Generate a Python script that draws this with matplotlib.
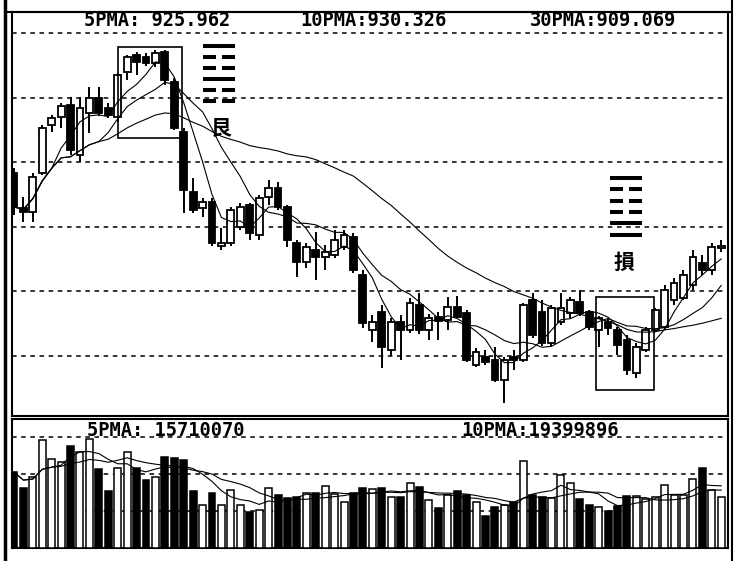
import matplotlib.pyplot as plt
from matplotlib.lines import Line2D
from matplotlib.patches import Rectangle
import numpy as np
import pandas as pd

plt.rcParams['font.family'] = ['Noto Sans CJK TC', 'Noto Sans CJK SC', 'Noto Sans CJK JP', 'DejaVu Sans']

# 日K线数据 (价格单位: 点, 成交量单位: 百万股)
open_ = [936.7, 925.9, 924.6, 936.7, 951.6, 954.1, 957.8, 942.3, 955.3, 960.0,
         956.9, 954.1, 968.0, 973.3, 972.7, 970.8, 974.2, 964.9, 949.4, 930.8,
         925.9, 927.7, 914.1, 915.0, 920.0, 926.8, 917.5, 929.3, 932.1, 926.2,
         915.0, 909.1, 912.9, 910.7, 911.3, 913.8, 916.9, 905.1, 888.1, 893.6,
         881.9, 890.6, 888.1, 895.8, 888.1, 892.1, 891.2, 895.2, 893.3, 877.2,
         879.7, 878.8, 872.6, 879.7, 878.8, 897.4, 893.6, 884.1, 890.6, 893.3,
         896.7, 893.6, 888.1, 890.6, 888.1, 885.0, 874.8, 881.9, 888.1, 889.0,
         897.4, 898.0, 902.0, 908.8, 906.7, 913.5]
high = [938.3, 929.3, 936.7, 951.6, 954.7, 958.4, 960.3, 960.3, 963.4, 963.4,
        958.4, 967.7, 973.3, 974.2, 973.9, 974.9, 974.9, 966.2, 950.7, 935.2,
        929.0, 929.0, 919.7, 926.2, 927.4, 927.4, 929.9, 934.6, 933.9, 926.8,
        916.0, 915.0, 918.4, 914.4, 919.1, 919.1, 918.1, 906.7, 892.7, 895.8,
        891.8, 892.7, 898.0, 899.5, 893.0, 893.6, 898.3, 898.6, 894.3, 882.5,
        881.9, 882.8, 879.7, 881.9, 896.4, 899.5, 897.4, 895.8, 899.5, 898.3,
        900.5, 894.3, 892.4, 891.8, 889.0, 886.5, 884.1, 889.0, 894.9, 902.0,
        904.2, 906.7, 912.9, 911.3, 915.0, 916.0]
low = [923.7, 921.5, 921.5, 936.1, 949.4, 950.7, 942.3, 940.1, 949.1, 954.4,
       953.8, 952.5, 965.6, 967.1, 969.9, 969.6, 964.0, 950.1, 924.3, 924.3,
       923.1, 914.1, 912.9, 914.1, 919.1, 916.0, 916.0, 926.8, 925.3, 913.8,
       904.5, 907.3, 903.6, 906.7, 910.4, 912.9, 905.7, 888.7, 884.4, 876.3,
       880.0, 878.8, 887.1, 886.8, 885.0, 885.0, 888.1, 891.8, 878.2, 876.6,
       877.2, 872.0, 865.5, 875.7, 878.2, 885.6, 883.1, 883.1, 889.6, 891.8,
       892.4, 888.1, 882.8, 886.5, 880.3, 874.1, 873.2, 881.3, 887.4, 888.1,
       895.8, 897.4, 900.5, 905.1, 905.1, 912.3]
close = [926.2, 924.6, 935.5, 950.7, 953.8, 957.5, 943.9, 956.9, 960.0, 955.3,
         954.7, 967.1, 972.7, 971.1, 970.8, 973.9, 965.6, 950.7, 931.5, 925.3,
         927.7, 915.0, 915.0, 925.3, 926.2, 918.1, 929.0, 932.1, 926.2, 916.0,
         909.1, 913.8, 910.7, 912.3, 916.0, 917.5, 906.7, 890.3, 890.6, 882.8,
         890.6, 888.1, 896.4, 888.1, 891.8, 890.9, 895.2, 892.1, 878.8, 881.3,
         878.2, 872.6, 878.8, 878.8, 895.8, 886.5, 884.1, 894.9, 894.9, 897.4,
         893.3, 889.0, 891.8, 888.7, 883.4, 875.7, 882.8, 888.1, 894.3, 900.5,
         902.6, 905.1, 910.7, 906.7, 913.8, 914.1]
volume = [20.5, 16.2, 19.2, 29.2, 24.1, 23.2, 27.6, 25.9, 29.5, 21.4,
          15.4, 21.6, 25.9, 21.6, 18.4, 19.2, 24.6, 24.3, 23.8, 15.4,
          11.6, 14.9, 11.6, 15.7, 11.6, 9.7, 10.3, 16.2, 14.3, 13.5,
          13.8, 14.9, 14.9, 16.8, 14.6, 12.4, 14.9, 16.2, 15.9, 16.2,
          13.8, 13.8, 17.6, 16.5, 13.0, 10.8, 14.3, 15.4, 14.3, 12.4,
          8.6, 11.1, 11.6, 12.4, 23.5, 14.3, 13.8, 13.5, 19.7, 17.6,
          13.2, 11.6, 11.1, 10.0, 11.4, 14.1, 14.1, 13.2, 13.8, 17.0,
          14.3, 14.3, 18.6, 21.6, 15.7, 13.8]

price_grid = [880, 900, 920, 940, 960, 980]
vol_grid = [10, 20, 30]

price_header = ['5PMA: 925.962', '10PMA:930.326', '30PMA:909.069']
vol_header = ['5PMA: 15710070', '10PMA:19399896']

# 卦象: 1 = 阳爻, 0 = 阴爻 (自上而下)
gua_gen = [1, 0, 0, 1, 0, 0]
gua_sun = [1, 0, 0, 0, 1, 1]

df = pd.DataFrame({'open': open_, 'high': high, 'low': low,
                   'close': close, 'vol': volume})
ma5 = df['close'].rolling(5, min_periods=1).mean()
ma10 = df['close'].rolling(10, min_periods=1).mean()
ma30 = df['close'].rolling(30, min_periods=1).mean()
vma5 = df['vol'].rolling(5, min_periods=1).mean()
vma10 = df['vol'].rolling(10, min_periods=1).mean()

W, H = 750, 561
fig = plt.figure(figsize=(7.5, 5.61), dpi=100)


def fx(px):
    return px / W


def fy(py):
    return 1 - py / H


ax1 = fig.add_axes([fx(12), fy(416), fx(728) - fx(12), fy(12) - fy(416)])
ax2 = fig.add_axes([fx(12), fy(548), fx(728) - fx(12), fy(419) - fy(548)])

x = np.arange(len(df))
up = (df['close'] >= df['open']).values
colors = np.where(up, 'white', 'black')

# K线
ax1.vlines(x, df['low'], df['high'], color='k', lw=1.4, zorder=2)
bottom = np.minimum(df['open'], df['close'])
height = np.maximum(np.abs(df['close'] - df['open']), 0.4)
ax1.bar(x, height, bottom=bottom, width=0.72, color=colors,
        edgecolor='k', linewidth=1.3, zorder=3)
for ma in (ma5, ma10, ma30):
    ax1.plot(x, ma, color='k', lw=0.8, zorder=4)

ax1.set_xlim(-0.21, 75.72)
ax1.set_ylim(861.4, 986.6)
ax1.set_yticks(price_grid)
ax1.grid(axis='y', color='k', linestyle=(0, (3, 3)), lw=1.1)
ax1.set_axisbelow(True)

# 方框
for u0, u1, p0, p1 in [(11.03, 17.82, 947.6, 975.8), (61.72, 67.87, 869.5, 898.3)]:
    ax1.add_patch(Rectangle((u0, p0), u1 - u0, p1 - p0, fill=False,
                            edgecolor='k', lw=1.2, zorder=5))

# 成交量
ax2.bar(x, df['vol'], width=0.74, color=colors, edgecolor='k', linewidth=1.1, zorder=3)
ax2.plot(x, vma5, color='k', lw=0.8, zorder=4)
ax2.plot(x, vma10, color='k', lw=0.8, zorder=4)
ax2.set_xlim(-0.21, 75.72)
ax2.set_ylim(0, 34.86)
ax2.set_yticks(vol_grid)
ax2.grid(axis='y', color='k', linestyle=(0, (3, 3)), lw=1.1)
ax2.set_axisbelow(True)

for ax in (ax1, ax2):
    ax.set_xticks([])
    ax.tick_params(left=False, bottom=False, labelleft=False, labelbottom=False)
    for s in ax.spines.values():
        s.set_linewidth(1.5)

# 外框
fig.add_artist(Line2D([fx(5), fx(5)], [0, 1], color='k', lw=2.5))
fig.add_artist(Line2D([fx(732), fx(732)], [0, 1], color='k', lw=1.5))
fig.add_artist(Line2D([fx(5), fx(732)], [fy(12), fy(12)], color='k', lw=1.5))

# 标题文字
mono = dict(family='DejaVu Sans Mono', weight='bold', fontsize=13.5, va='center', ha='center')
for s, cx in zip(price_header, [157, 373, 603]):
    fig.text(fx(cx), fy(21), s, **mono)
for s, cx in zip(vol_header, [166, 540]):
    fig.text(fx(cx), fy(430), s, **mono)


def draw_gua(yao, x0, x1, ytop, step, gap):
    mid = (x0 + x1) / 2
    for k, v in enumerate(yao):
        yy = fy(ytop + k * step)
        if v:
            segs = [(x0, x1)]
        else:
            segs = [(x0, mid - gap / 2), (mid + gap / 2, x1)]
        for a, b in segs:
            fig.add_artist(Line2D([fx(a), fx(b)], [yy, yy], color='k', lw=2.9,
                                  solid_capstyle='butt'))


draw_gua(gua_gen, 203, 235, 45.5, 11, 6)
draw_gua(gua_sun, 610, 642, 178, 11.3, 6)

cjk = ['Noto Sans CJK TC', 'Noto Sans CJK SC', 'Noto Sans CJK JP', 'DejaVu Sans']
fig.text(fx(221), fy(128), '艮', family=cjk, fontsize=15, weight='bold', ha='center', va='center')
fig.text(fx(624), fy(262), '損', family=cjk, fontsize=15, weight='bold', ha='center', va='center')

fig.savefig('out.png', dpi=100)
